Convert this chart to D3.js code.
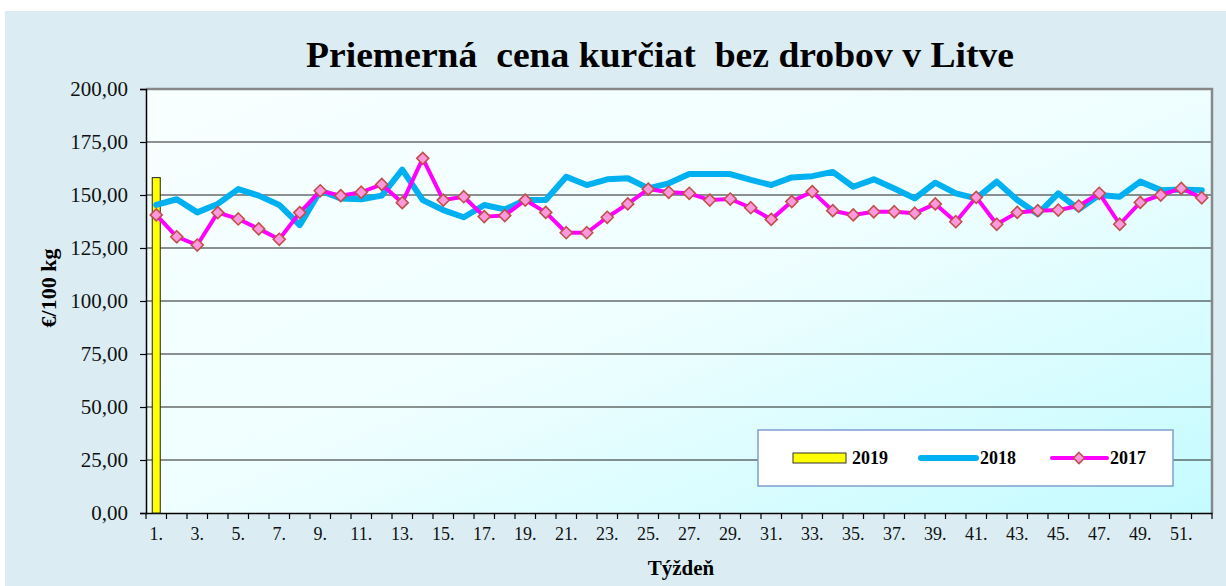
<!DOCTYPE html>
<html><head><meta charset="utf-8">
<script src="https://cdn.jsdelivr.net/npm/d3@7"></script>
<style>html,body{margin:0;padding:0;background:#fff;}svg{display:block;}</style>
</head><body>
<svg id="c" width="1226" height="586"></svg>
<script>
const weeks = d3.range(1, 53);
const xTickLabels = d3.range(1, 53, 2).map(d => d + ".");
const yTicks = [0, 25, 50, 75, 100, 125, 150, 175, 200];
const values2019 = [158.2];
const values2018 = [145.3,148.0,141.8,145.8,152.8,149.7,145.3,135.8,152.0,148.4,148.0,149.7,162.0,147.6,142.9,139.5,145.3,143.2,147.6,147.6,158.6,154.7,157.4,157.9,153.1,155.5,159.9,159.9,159.9,157.1,154.7,158.3,158.9,160.9,153.9,157.4,153.1,148.4,155.8,150.8,148.4,156.3,147.6,141.0,150.8,143.2,150.0,149.2,156.3,152.3,152.6,152.3];
const values2017 = [140.6,130.3,126.4,141.7,138.7,134.0,129.1,141.7,152.0,149.7,151.3,155.0,146.4,167.3,147.6,149.2,139.8,140.3,147.6,141.8,132.2,132.2,139.5,145.8,152.8,151.3,150.8,147.6,148.1,144.0,138.5,146.9,151.6,142.6,140.6,142.1,142.1,141.4,145.8,137.4,148.9,136.2,141.8,142.6,142.9,144.8,150.8,136.2,146.5,150.0,153.1,148.7];
const seriesNames = ["2019", "2018", "2017"];

const svg = d3.select("#c");
const L = 146, R = 1212, T = 89, B = 513;
const serif = "'Liberation Serif','Times New Roman',serif";

const defs = svg.append("defs");
const g1 = defs.append("linearGradient").attr("id","pg").attr("x1","0").attr("y1","0").attr("x2","1").attr("y2","1");
g1.append("stop").attr("offset","0").attr("stop-color","#f8ffff");
g1.append("stop").attr("offset","0.5").attr("stop-color","#effeff");
g1.append("stop").attr("offset","1").attr("stop-color","#c4fbff");

// outer background
svg.append("rect").attr("x",5).attr("y",11).attr("width",1221).attr("height",575).attr("fill","#dbedf3");

// plot area
svg.append("rect").attr("x",L).attr("y",T).attr("width",R-L).attr("height",B-T).attr("fill","url(#pg)");

const x = d3.scaleBand().domain(weeks).range([L, R]).padding(0);
const y = d3.scaleLinear().domain([0, 200]).range([B, T]);

// gridlines
svg.append("g").selectAll("line").data(yTicks.filter(d => d > 0 && d < 200)).join("line")
  .attr("x1", L).attr("x2", R).attr("y1", d => y(d)).attr("y2", d => y(d))
  .attr("stroke", "#222").attr("stroke-width", 1.1);

// frame top/right
svg.append("path").attr("d", `M${L},${y(200)}H${R}V${B}`).attr("fill","none").attr("stroke","#888").attr("stroke-width",2.5);

// y axis
const yAxis = svg.append("g").attr("transform", `translate(${L},0)`)
  .call(d3.axisLeft(y).tickValues(yTicks).tickSize(6).tickPadding(12).tickFormat(d => d3.format(".2f")(d).replace(".", ",")));
yAxis.select(".domain").attr("stroke","#000").attr("stroke-width",1.5);
yAxis.selectAll(".tick line").attr("stroke","#000").attr("stroke-width",1.2);
yAxis.selectAll("text").attr("font-family", serif).attr("font-size", 21).attr("fill","#111");

// x axis
const xAxis = svg.append("g").attr("transform", `translate(0,${B})`)
  .call(d3.axisBottom(x).tickSize(0).tickPadding(14).tickFormat(d => (d % 2 === 1) ? xTickLabels[(d-1)/2] : ""));
xAxis.select(".domain").attr("stroke","#000").attr("stroke-width",1.5);
xAxis.selectAll("text").attr("font-family", serif).attr("font-size", 18).attr("fill","#111");
// boundary ticks
svg.append("g").selectAll("line").data(weeks.concat([53])).join("line")
  .attr("x1", d => d <= 52 ? x(d) : R).attr("x2", d => d <= 52 ? x(d) : R)
  .attr("y1", B).attr("y2", B + 6).attr("stroke","#000").attr("stroke-width",1.2);

// 2019 bar
const bw = 8;
svg.append("g").selectAll("rect").data(values2019).join("rect")
  .attr("x", (d, i) => x(weeks[i]) + x.bandwidth()/2 - bw/2)
  .attr("y", d => y(d)).attr("width", bw).attr("height", d => B - y(d))
  .attr("fill", "#ffff00").attr("stroke", "#222").attr("stroke-width", 1);

const line = d3.line().x((d, i) => x(weeks[i]) + x.bandwidth()/2).y(d => y(d));
svg.append("path").datum(values2018).attr("d", line).attr("fill","none")
  .attr("stroke","#00b0f0").attr("stroke-width",6).attr("stroke-linejoin","round").attr("stroke-linecap","round");
svg.append("path").datum(values2017).attr("d", line).attr("fill","none")
  .attr("stroke","#ff00ff").attr("stroke-width",4).attr("stroke-linejoin","round");

const diamond = s => `M0,${-s}L${s},0L0,${s}L${-s},0Z`;
svg.append("g").selectAll("path").data(values2017).join("path")
  .attr("transform", (d, i) => `translate(${x(weeks[i]) + x.bandwidth()/2},${y(d)})`)
  .attr("d", diamond(6)).attr("fill","#ff99dd").attr("stroke","#c0504d").attr("stroke-width",1.6);

// title
svg.append("text").attr("x", 660).attr("y", 67).attr("text-anchor","middle")
  .attr("font-family", serif).attr("font-weight","bold").attr("font-size", 35)
  .attr("textLength", 708).attr("lengthAdjust","spacingAndGlyphs")
  .attr("fill","#000").attr("xml:space","preserve").style("white-space","pre")
  .text("Priemerná  cena kurčiat  bez drobov v Litve");

// axis titles
svg.append("text").attr("transform","translate(56,288) rotate(-90)").attr("text-anchor","middle")
  .attr("font-family", serif).attr("font-weight","bold").attr("font-size", 22).attr("fill","#000")
  .text("€/100 kg");
svg.append("text").attr("x", 681).attr("y", 575).attr("text-anchor","middle")
  .attr("font-family", serif).attr("font-weight","bold").attr("font-size", 21).attr("fill","#000")
  .text("Týždeň");

// legend
const lg = svg.append("g");
lg.append("rect").attr("x",758).attr("y",430).attr("width",415).attr("height",56)
  .attr("fill","#fff").attr("stroke","#7f9fd0").attr("stroke-width",1.5);
const ly = 458;
lg.append("rect").attr("x",793).attr("y",453).attr("width",53).attr("height",10)
  .attr("fill","#ffff00").attr("stroke","#333").attr("stroke-width",1);
lg.append("line").attr("x1",921).attr("x2",976).attr("y1",ly).attr("y2",ly)
  .attr("stroke","#00b0f0").attr("stroke-width",6).attr("stroke-linecap","round");
lg.append("line").attr("x1",1052).attr("x2",1107).attr("y1",ly).attr("y2",ly)
  .attr("stroke","#ff00ff").attr("stroke-width",4).attr("stroke-linecap","round");
lg.append("path").attr("transform",`translate(1079,${ly})`).attr("d",diamond(5.5))
  .attr("fill","#ff99dd").attr("stroke","#c0504d").attr("stroke-width",1.6);
const lx = [852, 980, 1110];
lg.selectAll("text.l").data(seriesNames).join("text").attr("class","l")
  .attr("x", (d, i) => lx[i]).attr("y", 464)
  .attr("font-family", serif).attr("font-weight","bold").attr("font-size", 18).attr("fill","#000")
  .text(d => d);
</script>
</body></html>
